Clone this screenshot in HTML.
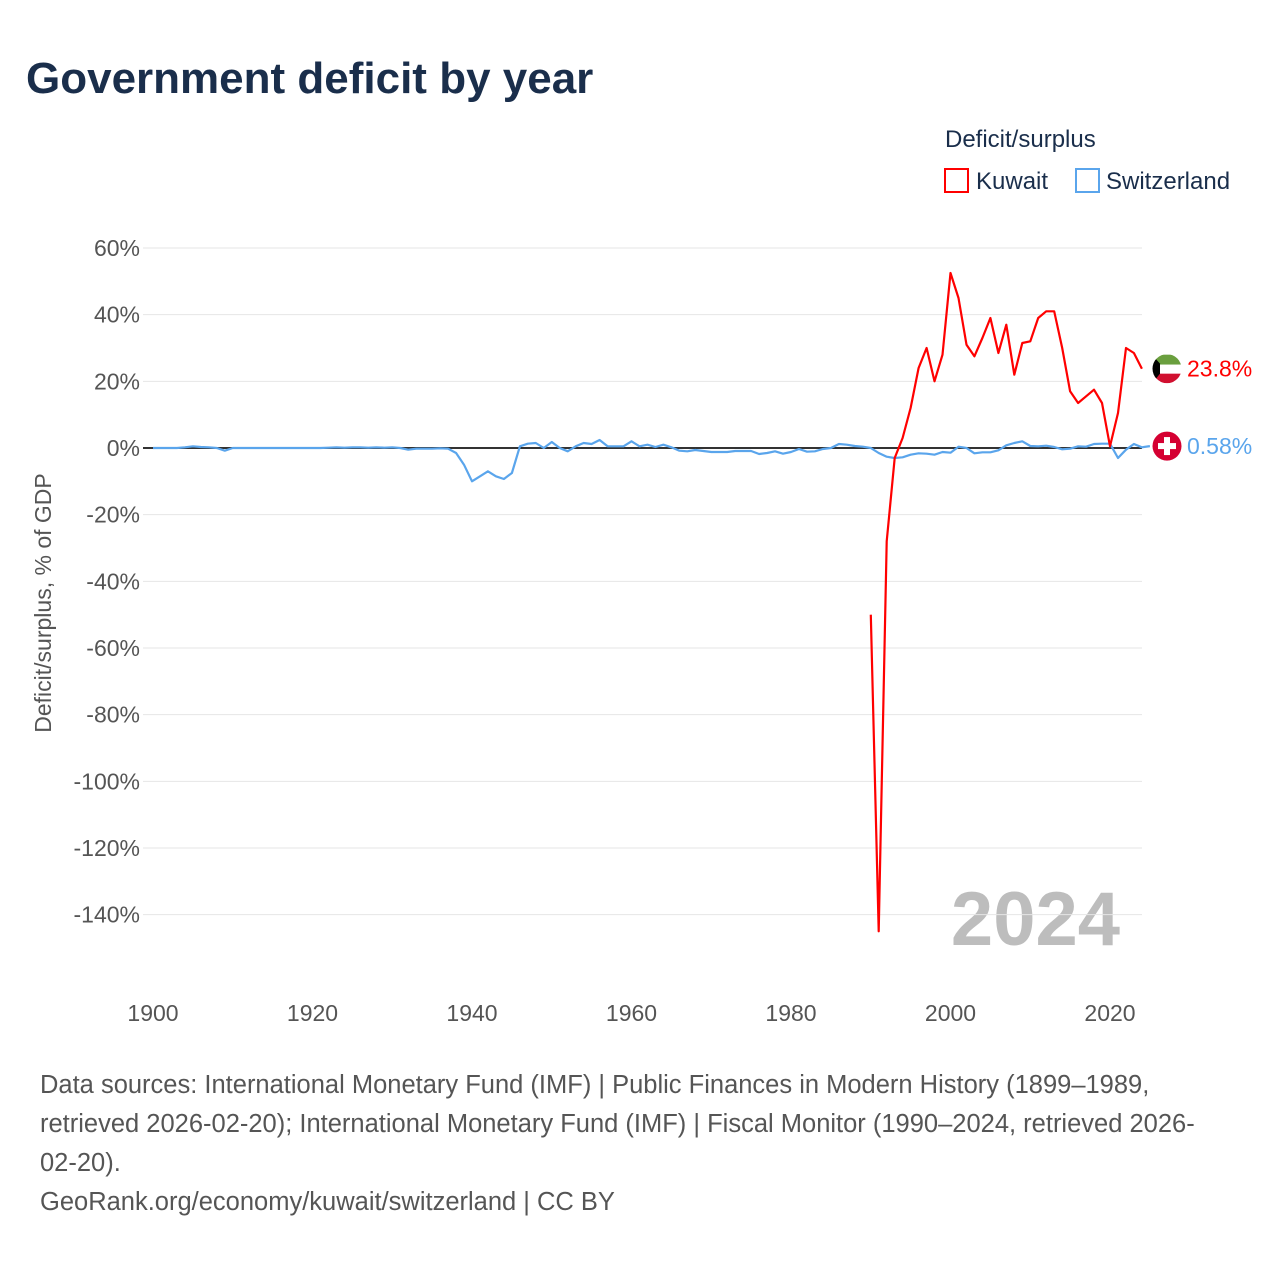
<!DOCTYPE html>
<html><head><meta charset="utf-8"><style>
body{margin:0;background:#fff;font-family:"Liberation Sans",sans-serif;}
#wrap{position:relative;width:1280px;height:1280px;overflow:hidden}
</style></head><body>
<div id="wrap">
<svg id="svg" width="1280" height="1280" xmlns="http://www.w3.org/2000/svg">
<text x="26" y="93" font-size="44" font-weight="bold" fill="#1a2e4b">Government deficit by year</text>
<text x="945" y="147" font-size="24" fill="#1a2e4b">Deficit/surplus</text>
<rect x="945" y="169" width="23" height="23" fill="none" stroke="#ff0000" stroke-width="2"/>
<text x="976" y="189" font-size="24" fill="#1a2e4b">Kuwait</text>
<rect x="1076" y="169" width="23" height="23" fill="none" stroke="#5aa5ec" stroke-width="2"/>
<text x="1106" y="189" font-size="24" fill="#1a2e4b">Switzerland</text>
<text transform="translate(51,603) rotate(-90)" text-anchor="middle" font-size="23" fill="#555">Deficit/surplus, % of GDP</text>
<text x="1120" y="945" text-anchor="end" font-size="76" font-weight="bold" fill="#bdbdbd">2024</text>
<g id="grid"></g><g id="series"></g>
<g font-size="25.5" fill="#555">
<text x="40" y="1093">Data sources: International Monetary Fund (IMF) | Public Finances in Modern History (1899–1989,</text>
<text x="40" y="1132">retrieved 2026-02-20); International Monetary Fund (IMF) | Fiscal Monitor (1990–2024, retrieved 2026-</text>
<text x="40" y="1171">02-20).</text>
<text x="40" y="1210">GeoRank.org/economy/kuwait/switzerland | CC BY</text>
</g>
</svg></div>
<script>
const yTicks=[60,40,20,0,-20,-40,-60,-80,-100,-120,-140];
const xTicks=[1900,1920,1940,1960,1980,2000,2020];
const kuwaitStart=1990;
const kuwaitValues=[-50,-145,-28,-3,3,12,24,30,20,28,52.5,45,31,27.5,33,39,28.5,37,22,31.5,32,39,41,41,30,17,13.5,15.5,17.5,13.5,0.5,10.5,30,28.5,23.8];
const swissStart=1900;
const swissValues=[0,0,0,0,0.2,0.5,0.3,0.2,0,-0.8,0,0,0,0,0,0,0,0,0,0,0,0,0.1,0.2,0.1,0.2,0.2,0.1,0.2,0.1,
0.2,0,-0.5,-0.2,-0.2,-0.2,-0.1,-0.2,-1.5,-5,
-10,-8.5,-7,-8.5,-9.3,-7.5,0.5,1.3,1.5,0,
1.8,0,-1,0.5,1.5,1.2,2.4,0.5,0.5,0.5,
2,0.5,1,0.3,1,0.2,-0.8,-1,-0.6,-0.9,
-1.2,-1.2,-1.2,-0.9,-0.9,-0.9,-1.8,-1.5,-1,-1.7,
-1.2,-0.3,-1.1,-1,-0.3,0,1.2,1,0.6,0.4,
0,-1.5,-2.6,-3,-2.8,-2,-1.6,-1.7,-2,-1.2,
-1.4,0.4,0,-1.6,-1.3,-1.3,-0.7,0.8,1.5,2,
0.6,0.5,0.7,0.3,-0.4,-0.2,0.5,0.4,1.2,1.3,
1.3,-3,-0.5,1.2,0.2,0.58];
const NS="http://www.w3.org/2000/svg";
const X=y=>153+(y-1900)*957/120;
const Y=v=>448-v*200/60;
const grid=document.getElementById('grid'),ser=document.getElementById('series');
function mk(tag,attrs,parent){const e=document.createElementNS(NS,tag);for(const k in attrs)e.setAttribute(k,attrs[k]);parent.appendChild(e);return e;}
yTicks.forEach(t=>{
 const l=mk('line',{x1:143,x2:1142,y1:Y(t),y2:Y(t),stroke:t===0?'#333':'#e6e6e6','stroke-width':t===0?2:1},grid);
 
 
 const tx=mk('text',{x:140,y:Y(t)+8,'text-anchor':'end','font-size':23,fill:'#555'},grid);
 tx.textContent=t+'%';
 
 
});
xTicks.forEach(t=>{
 const tx=mk('text',{x:X(t),y:1021,'text-anchor':'middle','font-size':23,fill:'#555'},grid);
 tx.textContent=t;
 
 
});
function line(start,vals,color,name){
 const d=vals.map((v,i)=>(i?'L':'M')+X(start+i).toFixed(1)+','+Y(v).toFixed(1)).join('');
 const p=mk('path',{d:d,fill:'none',stroke:color,'stroke-width':2.2,'stroke-linejoin':'round'},ser);
 
 
}
line(swissStart,swissValues,'#5aa5ec','switzerland-line');
line(kuwaitStart,kuwaitValues,'#ff0000','kuwait-line');
const kv=kuwaitValues[kuwaitValues.length-1], sv=swissValues[swissValues.length-1];
const ky=Y(kv), sy=Y(sv);
const kf=mk('g',{},ser);


mk('rect',{x:1152,y:ky-14,width:30,height:10,fill:'#6a9f3e'},kf);
mk('rect',{x:1152,y:ky-4,width:30,height:9,fill:'#fff'},kf);
mk('rect',{x:1152,y:ky+5,width:30,height:10,fill:'#d11030'},kf);
mk('polygon',{points:`1152,${ky-14} 1160,${ky-5} 1160,${ky+5} 1152,${ky+15}`,fill:'#000'},kf);
const kt=mk('text',{x:1187,y:ky+8,'font-size':23,fill:'#ff0000'},ser);
kt.textContent=kv+'%';


const sf=mk('g',{},ser);


mk('circle',{cx:1167,cy:sy,r:14.5,fill:'#d50032'},sf);
mk('rect',{x:1164,y:sy-9,width:6,height:18,fill:'#fff'},sf);
mk('rect',{x:1158,y:sy-3,width:18,height:6,fill:'#fff'},sf);
const st=mk('text',{x:1187,y:sy+8,'font-size':23,fill:'#5aa5ec'},ser);
st.textContent=sv+'%';


const defs=mk('defs',{},document.getElementById('svg'));
const cp=mk('clipPath',{id:'kc'},defs);
mk('circle',{cx:1167,cy:ky,r:14.5},cp);
kf.setAttribute('clip-path','url(#kc)');
</script>
</body></html>
